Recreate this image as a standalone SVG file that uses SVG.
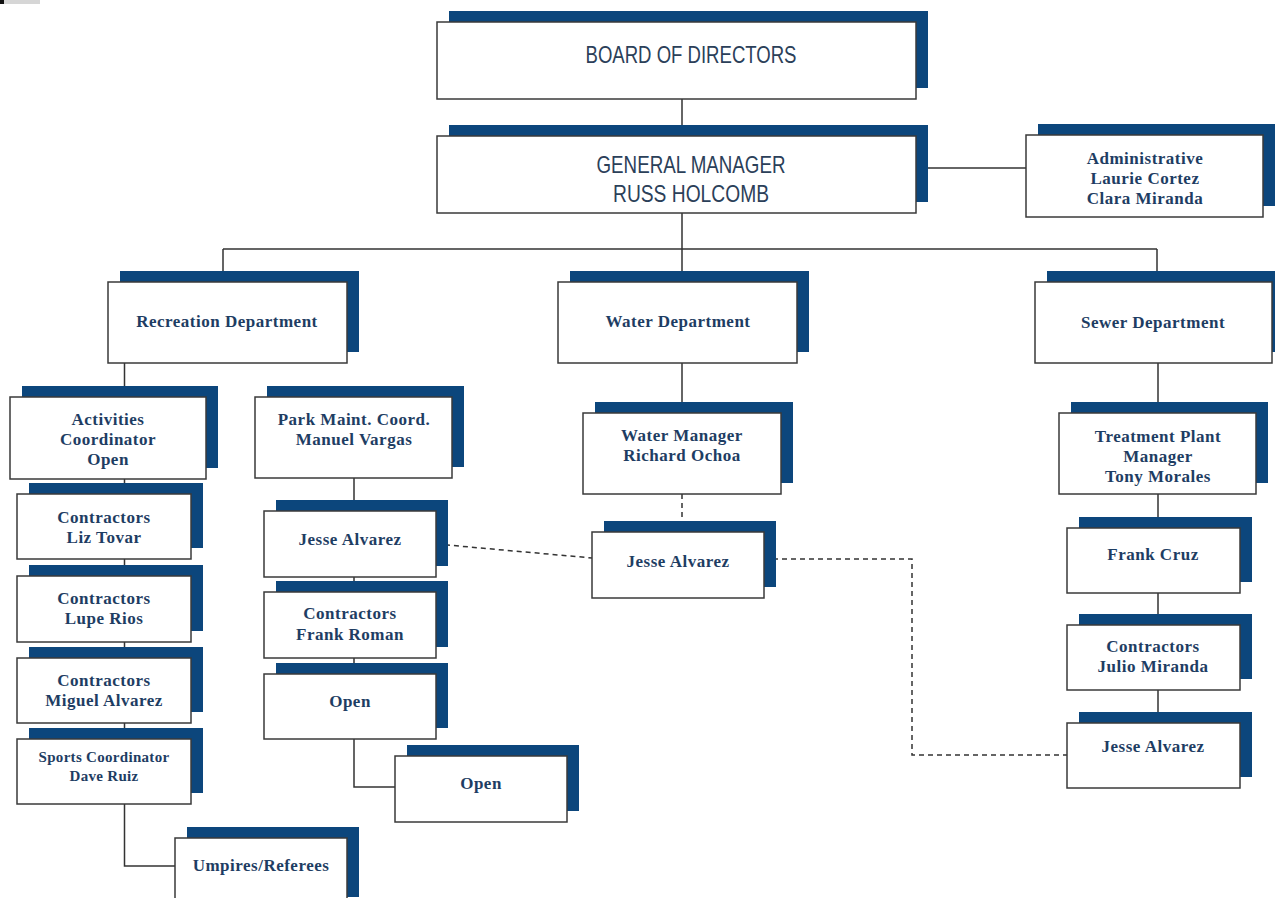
<svg xmlns="http://www.w3.org/2000/svg" width="1275" height="898" viewBox="0 0 1275 898">
<style>
.sh{fill:#0c467c}
.bx{fill:#fff;stroke:#3a3a3a;stroke-width:1.5}
.t{font-family:"Liberation Serif",serif;font-weight:bold;font-size:17px;fill:#1e3d63;text-anchor:middle;letter-spacing:0.5px}
.ts{font-size:15px;letter-spacing:0.3px}
.h{font-family:"Liberation Sans Narrow","Liberation Sans",sans-serif;font-size:24px;fill:#2b4059;text-anchor:middle}
.ln{stroke:#333;stroke-width:1.5;fill:none}
.dash{stroke-dasharray:5 4}
</style>
<rect width="1275" height="898" fill="#fff"/>
<rect x="0" y="0" width="40" height="4" fill="#d6d6d6"/>
<rect x="0" y="0" width="4" height="4" fill="#111"/>
<g id="connectors">
<path class="ln" d="M682 99V136"/>
<path class="ln" d="M916 168H1026"/>
<path class="ln" d="M682 213V249M223 249H1157M223 249V282M682 249V282M1157 249V282"/>
<path class="ln" d="M682 363V413"/>
<path class="ln" d="M124.5 363V397M124.5 479V494M124.5 559V576M124.5 642V658M124.5 723V739M124.5 804V866H175"/>
<path class="ln" d="M354 478V511M354 577V592M354 658V674M354 739V787H395"/>
<path class="ln" d="M1158 363V413M1158 494V528M1158 593V625M1158 690V723"/>
<path class="ln dash" d="M682 494V532"/>
<path class="ln dash" d="M436 544L592 558"/>
<path class="ln dash" d="M764 559H912V755H1067"/>
</g>
<g id="board"><rect class="sh" x="449" y="11" width="479" height="77"/><rect class="bx" x="437" y="22" width="479" height="77"/><text class="h" x="691" y="63" textLength="211" lengthAdjust="spacingAndGlyphs">BOARD OF DIRECTORS</text></g>
<g id="gm"><rect class="sh" x="449" y="125" width="479" height="77"/><rect class="bx" x="437" y="136" width="479" height="77"/><text class="h" x="691" y="173" textLength="189" lengthAdjust="spacingAndGlyphs">GENERAL MANAGER</text><text class="h" x="691" y="202" textLength="156" lengthAdjust="spacingAndGlyphs">RUSS HOLCOMB</text></g>
<g id="admin"><rect class="sh" x="1038" y="124" width="237" height="82"/><rect class="bx" x="1026" y="135" width="237" height="82"/><text class="t" x="1145" y="164">Administrative</text><text class="t" x="1145" y="184">Laurie Cortez</text><text class="t" x="1145" y="204">Clara Miranda</text></g>
<g id="rec"><rect class="sh" x="120" y="271" width="239" height="81"/><rect class="bx" x="108" y="282" width="239" height="81"/><text class="t" x="227" y="327">Recreation Department</text></g>
<g id="water"><rect class="sh" x="570" y="271" width="239" height="81"/><rect class="bx" x="558" y="282" width="239" height="81"/><text class="t" x="678" y="327">Water Department</text></g>
<g id="sewer"><rect class="sh" x="1047" y="271" width="237" height="81"/><rect class="bx" x="1035" y="282" width="237" height="81"/><text class="t" x="1153" y="328">Sewer Department</text></g>
<g id="activities"><rect class="sh" x="22" y="386" width="196" height="82"/><rect class="bx" x="10" y="397" width="196" height="82"/><text class="t" x="108" y="425">Activities</text><text class="t" x="108" y="445">Coordinator</text><text class="t" x="108" y="465">Open</text></g>
<g id="park"><rect class="sh" x="267" y="386" width="197" height="81"/><rect class="bx" x="255" y="397" width="197" height="81"/><text class="t" x="354" y="425">Park Maint. Coord.</text><text class="t" x="354" y="445">Manuel Vargas</text></g>
<g id="liz"><rect class="sh" x="29" y="483" width="174" height="65"/><rect class="bx" x="17" y="494" width="174" height="65"/><text class="t" x="104" y="523">Contractors</text><text class="t" x="104" y="543">Liz Tovar</text></g>
<g id="lupe"><rect class="sh" x="29" y="565" width="174" height="66"/><rect class="bx" x="17" y="576" width="174" height="66"/><text class="t" x="104" y="604">Contractors</text><text class="t" x="104" y="624">Lupe Rios</text></g>
<g id="miguel"><rect class="sh" x="29" y="647" width="174" height="65"/><rect class="bx" x="17" y="658" width="174" height="65"/><text class="t" x="104" y="686">Contractors</text><text class="t" x="104" y="706">Miguel Alvarez</text></g>
<g id="sports"><rect class="sh" x="29" y="728" width="174" height="65"/><rect class="bx" x="17" y="739" width="174" height="65"/><text class="t ts" x="104" y="762">Sports Coordinator</text><text class="t ts" x="104" y="781">Dave Ruiz</text></g>
<g id="umpires"><rect class="sh" x="187" y="827" width="172" height="70"/><rect class="bx" x="175" y="838" width="172" height="70"/><text class="t" x="261" y="871">Umpires/Referees</text></g>
<g id="jesse1"><rect class="sh" x="276" y="500" width="172" height="66"/><rect class="bx" x="264" y="511" width="172" height="66"/><text class="t" x="350" y="545">Jesse Alvarez</text></g>
<g id="frankroman"><rect class="sh" x="276" y="581" width="172" height="66"/><rect class="bx" x="264" y="592" width="172" height="66"/><text class="t" x="350" y="619">Contractors</text><text class="t" x="350" y="640">Frank Roman</text></g>
<g id="open1"><rect class="sh" x="276" y="663" width="172" height="65"/><rect class="bx" x="264" y="674" width="172" height="65"/><text class="t" x="350" y="707">Open</text></g>
<g id="open2"><rect class="sh" x="407" y="745" width="172" height="66"/><rect class="bx" x="395" y="756" width="172" height="66"/><text class="t" x="481" y="789">Open</text></g>
<g id="watermgr"><rect class="sh" x="595" y="402" width="198" height="81"/><rect class="bx" x="583" y="413" width="198" height="81"/><text class="t" x="682" y="441">Water Manager</text><text class="t" x="682" y="461">Richard Ochoa</text></g>
<g id="jesse2"><rect class="sh" x="604" y="521" width="172" height="66"/><rect class="bx" x="592" y="532" width="172" height="66"/><text class="t" x="678" y="567">Jesse Alvarez</text></g>
<g id="treatment"><rect class="sh" x="1071" y="402" width="197" height="81"/><rect class="bx" x="1059" y="413" width="197" height="81"/><text class="t" x="1158" y="442">Treatment Plant</text><text class="t" x="1158" y="462">Manager</text><text class="t" x="1158" y="482">Tony Morales</text></g>
<g id="frankcruz"><rect class="sh" x="1079" y="517" width="173" height="65"/><rect class="bx" x="1067" y="528" width="173" height="65"/><text class="t" x="1153" y="560">Frank Cruz</text></g>
<g id="julio"><rect class="sh" x="1079" y="614" width="173" height="65"/><rect class="bx" x="1067" y="625" width="173" height="65"/><text class="t" x="1153" y="652">Contractors</text><text class="t" x="1153" y="672">Julio Miranda</text></g>
<g id="jesse3"><rect class="sh" x="1079" y="712" width="173" height="65"/><rect class="bx" x="1067" y="723" width="173" height="65"/><text class="t" x="1153" y="752">Jesse Alvarez</text></g>
</svg>
